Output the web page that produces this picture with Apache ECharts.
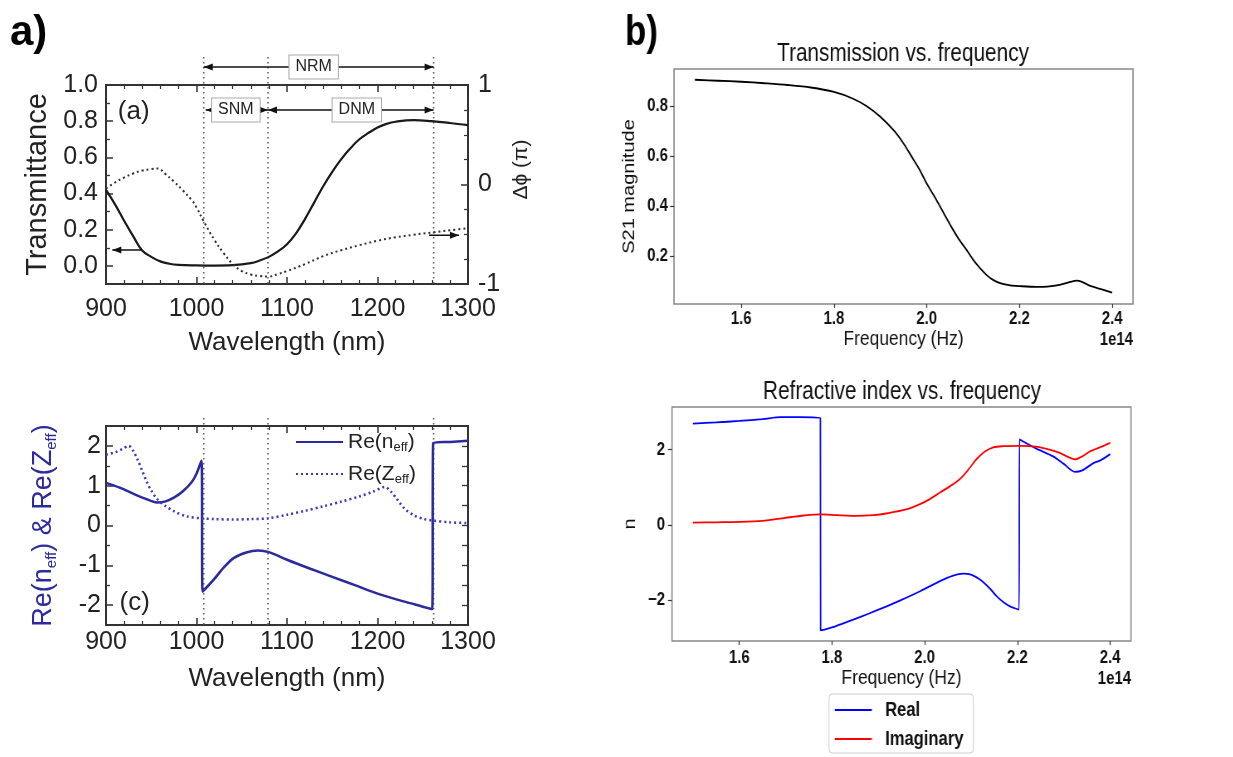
<!DOCTYPE html>
<html><head><meta charset="utf-8">
<script src="https://cdn.jsdelivr.net/npm/echarts@6/dist/echarts.min.js"></script>
<style>
html,body{margin:0;padding:0;background:#fff;overflow:hidden}
#wrap{position:relative;width:1233px;height:757px}
#ca{position:absolute;left:0;top:0;width:620px;height:757px}
#cb{position:absolute;left:620px;top:0;width:739px;height:757px;transform:scaleX(0.83);transform-origin:0 0}
</style>
</head><body><div id="wrap"><div id="ca"></div><div id="cb"></div></div>
<script>
// ---------- DATA ----------
// (a) transmittance vs wavelength (left axis)
const tWl  = [900,910,920,930,940,950,960,970,980,1000,1020,1040,1060,1070,1080,1090,1100,1110,1120,1130,1140,1150,1160,1170,1180,1190,1200,1210,1220,1240,1260,1280,1300];
const tVal = [0.42,0.34,0.25,0.165,0.085,0.05,0.025,0.012,0.006,0.003,0.002,0.004,0.015,0.03,0.05,0.08,0.12,0.18,0.26,0.35,0.44,0.52,0.59,0.65,0.70,0.735,0.765,0.785,0.797,0.806,0.80,0.79,0.778];
// (a) phase difference (right axis, units of pi)
const pWl  = [900,910,920,930,940,950,958,965,975,985,995,1000,1008,1020,1030,1040,1050,1060,1070,1080,1090,1100,1120,1140,1160,1180,1200,1220,1240,1262,1280,1300];
const pVal = [-0.04,0.02,0.07,0.11,0.14,0.155,0.16,0.11,0.03,-0.06,-0.16,-0.23,-0.37,-0.56,-0.69,-0.80,-0.87,-0.905,-0.92,-0.925,-0.90,-0.87,-0.80,-0.72,-0.66,-0.61,-0.565,-0.53,-0.505,-0.48,-0.46,-0.44];
// (c) Re(n_eff)
const nWl  = [900,915,930,945,956,965,975,985,995,1000,1005.5,1006.8,1019,1030,1041,1055,1068,1080,1100,1125,1150,1175,1200,1220,1236,1250,1260.5,1261.5,1280,1300];
const nVal = [1.07,0.95,0.80,0.66,0.58,0.60,0.70,0.86,1.10,1.30,1.63,-1.66,-1.36,-1.06,-0.82,-0.68,-0.63,-0.67,-0.86,-1.08,-1.29,-1.50,-1.71,-1.85,-1.95,-2.04,-2.10,2.07,2.10,2.13];
// (c) Re(Z_eff)
const zWl  = [900,910,918,925,930,935,940,945,950,956,965,975,989,1005,1020,1040,1060,1079,1100,1120,1140,1160,1180,1195,1208,1215,1222,1230,1240,1250,1262,1280,1300];
const zVal = [1.78,1.84,1.92,2.0,1.88,1.65,1.38,1.10,0.88,0.68,0.50,0.36,0.23,0.18,0.16,0.15,0.16,0.18,0.27,0.37,0.48,0.60,0.73,0.85,0.97,0.85,0.65,0.42,0.26,0.17,0.12,0.08,0.06];
// region boundaries (nm) and region names
const regionBounds = [1008, 1079, 1262];
const regionNames = ['NRM', 'SNM', 'DNM'];
// b) S21 magnitude vs frequency (x in units of 1e14 Hz)
const sF = [1.50,1.55,1.60,1.65,1.70,1.75,1.80,1.84,1.87,1.90,1.93,1.95,1.97,1.985,2.00,2.021,2.04,2.057,2.07,2.086,2.10,2.115,2.13,2.143,2.16,2.18,2.20,2.236,2.26,2.287,2.31,2.323,2.335,2.35,2.37,2.40];
const sV = [0.905,0.901,0.897,0.891,0.884,0.874,0.856,0.83,0.80,0.757,0.70,0.65,0.59,0.544,0.49,0.424,0.36,0.304,0.265,0.224,0.185,0.151,0.122,0.104,0.09,0.082,0.079,0.076,0.077,0.084,0.096,0.101,0.096,0.082,0.07,0.053];
// b) refractive index: real part
const rF = [1.50,1.55,1.60,1.65,1.69,1.73,1.775,1.7755,1.80,1.846,1.88,1.918,1.95,1.99,2.033,2.06,2.083,2.10,2.119,2.14,2.155,2.17,2.184,2.2035,2.2045,2.24,2.277,2.30,2.324,2.34,2.364,2.38,2.40];
const rV = [2.69,2.72,2.76,2.81,2.86,2.86,2.84,-2.80,-2.72,-2.51,-2.35,-2.16,-1.99,-1.76,-1.49,-1.35,-1.29,-1.32,-1.45,-1.68,-1.89,-2.05,-2.16,-2.25,2.27,2.03,1.82,1.62,1.41,1.45,1.64,1.72,1.88];
// b) refractive index: imaginary part
const iF = [1.50,1.55,1.60,1.65,1.70,1.74,1.775,1.81,1.85,1.89,1.92,1.96,1.99,2.01,2.033,2.055,2.076,2.095,2.112,2.13,2.148,2.17,2.205,2.24,2.263,2.29,2.31,2.324,2.34,2.356,2.38,2.40];
const iV = [0.06,0.07,0.08,0.11,0.19,0.25,0.28,0.26,0.24,0.26,0.31,0.41,0.55,0.68,0.86,1.03,1.22,1.48,1.75,1.95,2.06,2.09,2.10,2.08,2.02,1.92,1.80,1.74,1.82,1.95,2.07,2.18];
// tick labels
const wlTicks = [900,1000,1100,1200,1300];
const tTicks = [0,0.2,0.4,0.6,0.8,1.0];
const tMinor = [0.1,0.3,0.5,0.7,0.9];
const cTicks = [-2,-1,0,1,2];
const cMinor = [-1.5,-0.5,0.5,1.5];
const cRight = [-2,-1.5,-1,-0.5,0,0.5,1,1.5,2];
const fTicks = [1.6,1.8,2.0,2.2,2.4];
const sTicks = [0.2,0.4,0.6,0.8];
const nTicks = [-2,0,2];
// annotation arrows in data units: [from, tip, level]
const arrowT = [939, 907, 0.088];
const arrowP = [1257, 1290, -0.51];

const zip = (a, b) => a.map((v, i) => [v, b[i]]);
const FA = "'Liberation Sans', Arial, sans-serif";
const INK = '#222';
const BLUE = '#2b2b9e';
const HS = 1 / 0.83;   // horizontal compensation inside the compressed right-hand chart

// ================= LEFT FIGURE (a), (c) =================
const chartA = echarts.init(document.getElementById('ca'), null, {renderer: 'canvas'});
const boxTick = {inside: true, length: 7, lineStyle: {color: '#333', width: 1.5}};
const noLine = {show: false, onZero: false};
const noSplit = {show: false};

function wlAxis(gi, pos, show, gap, margin) {
  return {
    type: 'value', gridIndex: gi, position: pos, min: wlTicks[0], max: wlTicks[wlTicks.length - 1], interval: 100,
    axisLine: noLine, splitLine: noSplit,
    axisTick: boxTick,
    minorTick: {show: true, splitNumber: 5, length: 4, lineStyle: {color: '#333', width: 1.2}},
    axisLabel: {show: show, interval: 0, showMinLabel: true, showMaxLabel: true, margin: margin,
      formatter: v => String(v), fontSize: 25, fontFamily: FA, color: INK},
    name: show ? 'Wavelength (nm)' : '', nameLocation: 'middle', nameGap: gap,
    nameTextStyle: {fontSize: 26, fontFamily: FA, color: INK}
  };
}
function tickOnly(gi, pos, min, max, vals, len) {
  return {
    type: 'value', gridIndex: gi, position: pos, min: min, max: max,
    axisLine: noLine, splitLine: noSplit, axisLabel: {show: false},
    axisTick: {show: true, inside: true, length: len, customValues: vals, lineStyle: {color: '#333', width: 1.3}}
  };
}

chartA.setOption({
  animation: false,
  backgroundColor: '#fff',
  title: [
    {text: 'a)', left: 10, top: 12, padding: 0, textStyle: {fontSize: 42, fontWeight: 'bold', fontFamily: FA, color: '#000'}}
  ],
  grid: [
    {left: 106, top: 85, width: 362, height: 199, show: true, borderColor: '#333', borderWidth: 2, backgroundColor: 'transparent', outerBoundsMode: 'none'},
    {left: 106, top: 426, width: 362, height: 199, show: true, borderColor: '#333', borderWidth: 2, backgroundColor: 'transparent', outerBoundsMode: 'none'}
  ],
  xAxis: [
    wlAxis(0, 'bottom', true, 46, 13),
    wlAxis(0, 'top', false, 0, 8),
    wlAxis(1, 'bottom', true, 41, 5),
    wlAxis(1, 'top', false, 0, 8)
  ],
  yAxis: [
    { // 0: transmittance
      type: 'value', gridIndex: 0, position: 'left', min: -0.1, max: 1.0,
      axisLine: noLine, splitLine: noSplit,
      axisTick: Object.assign({customValues: tTicks}, boxTick),
      axisLabel: {customValues: tTicks, formatter: v => v.toFixed(1), margin: 8, fontSize: 25, fontFamily: FA, color: INK},
      name: 'Transmittance', nameLocation: 'middle', nameGap: 44,
      nameTextStyle: {fontSize: 29, fontFamily: FA, color: INK}
    },
    { // 1: phase
      type: 'value', gridIndex: 0, position: 'right', min: -1, max: 1, interval: 1,
      axisLine: noLine, splitLine: noSplit, axisTick: boxTick,
      minorTick: {show: true, splitNumber: 4, length: 4, lineStyle: {color: '#333', width: 1.2}},
      axisLabel: {showMinLabel: true, showMaxLabel: true, margin: 10, fontSize: 25, fontFamily: FA, color: INK},
      name: 'Δϕ (π)', nameLocation: 'middle', nameGap: 31,
      nameTextStyle: {fontSize: 21, fontFamily: FA, color: INK, padding: [0, 0, 0, 30]}
    },
    tickOnly(0, 'left', -0.1, 1.0, tMinor, 4),
    { // 3: Re(n) & Re(Z)
      type: 'value', gridIndex: 1, position: 'left', min: -2.5, max: 2.5,
      axisLine: noLine, splitLine: noSplit,
      axisTick: Object.assign({customValues: cTicks}, boxTick),
      axisLabel: {customValues: cTicks, margin: 5, fontSize: 25, fontFamily: FA, color: INK},
      name: 'Re(n{s|eff}) & Re(Z{s|eff})', nameLocation: 'middle', nameGap: 47,
      nameTextStyle: {fontSize: 27, fontFamily: FA, color: BLUE, lineHeight: 30,
        rich: {s: {fontSize: 15, fontFamily: FA, color: BLUE, lineHeight: 12, verticalAlign: 'bottom'}}}
    },
    tickOnly(1, 'left', -2.5, 2.5, cMinor, 4),
    tickOnly(1, 'right', -2.5, 2.5, cRight, 6)
  ],
  legend: [
    {
      data: ['Re(n_eff)', 'Re(Z_eff)'], orient: 'vertical', left: 295, top: 430, padding: 0,
      itemWidth: 47, itemHeight: 14, itemGap: 8, selectedMode: false,
      itemStyle: {opacity: 0},
      formatter: name => name.replace('_eff', '{s|eff}'),
      textStyle: {fontSize: 21, fontFamily: FA, color: INK, lineHeight: 24,
        rich: {s: {fontSize: 13, fontFamily: FA, color: INK, lineHeight: 11, verticalAlign: 'bottom'}}}
    }
  ],
  series: [
    {name: 'Transmittance', type: 'line', xAxisIndex: 0, yAxisIndex: 0, data: zip(tWl, tVal),
      smooth: 0.4, symbol: 'none', lineStyle: {color: '#1a1a1a', width: 2.2}, z: 3},
    {name: 'Phase', type: 'line', xAxisIndex: 0, yAxisIndex: 1, data: zip(pWl, pVal),
      smooth: 0.4, symbol: 'none', lineStyle: {color: '#333', width: 2, type: [2, 3]}, z: 3},
    {name: 'Re(n_eff)', type: 'line', xAxisIndex: 2, yAxisIndex: 3, data: zip(nWl, nVal),
      smooth: 0.3, symbol: 'none', lineStyle: {color: BLUE, width: 2.5}, itemStyle: {color: BLUE}, z: 3},
    {name: 'Re(Z_eff)', type: 'line', xAxisIndex: 2, yAxisIndex: 3, data: zip(zWl, zVal),
      smooth: 0.3, symbol: 'none', lineStyle: {color: '#3b3bb5', width: 2.5, type: [2, 3]}, itemStyle: {color: '#3b3bb5'}, z: 3}
  ]
});

// annotations for (a)/(c), placed through the axes' own scales
const PA = (xi, yi, x, y) => chartA.convertToPixel({xAxisIndex: xi, yAxisIndex: yi}, [x, y]);
const gA = [];
const aTop = PA(0, 0, 900, 1.0)[1], aBot = PA(0, 0, 900, -0.1)[1];
const cTop = PA(2, 3, 900, 2.5)[1], cBot = PA(2, 3, 900, -2.5)[1];
const bxA = regionBounds.map(w => PA(0, 0, w, 0)[0]);
const bxC = regionBounds.map(w => PA(2, 3, w, 0)[0]);
function vline(x, y1, y2) {
  return {type: 'line', silent: true, z: 1, shape: {x1: x, y1: y1, x2: x, y2: y2},
    style: {stroke: '#666', lineWidth: 1.6, lineDash: [1.6, 3.4]}};
}
function head(xTip, y, dir) {
  return {type: 'polygon', silent: true, z: 5,
    shape: {points: [[xTip, y], [xTip - dir * 9, y - 3.5], [xTip - dir * 9, y + 3.5]]},
    style: {fill: '#111'}};
}
function seg(x1, x2, y) {
  return {type: 'line', silent: true, z: 5, shape: {x1: x1, y1: y, x2: x2, y2: y}, style: {stroke: '#111', lineWidth: 1.5}};
}
function tag(text, x, y) {
  return {type: 'text', silent: true, z: 10, x: x, y: y,
    style: {text: text, fontSize: 16, fontFamily: FA, fill: '#222', align: 'center', verticalAlign: 'middle',
      backgroundColor: '#fff', borderColor: '#aaa', borderWidth: 1, padding: [4, 6, 3, 6]}};
}
bxA.forEach(x => gA.push(vline(x, aTop - 28, aBot)));
bxC.forEach(x => gA.push(vline(x, cTop - 8, cBot)));
const yN = aTop - 18;
gA.push(seg(bxA[0], bxA[2], yN), head(bxA[0], yN, -1), head(bxA[2], yN, 1), tag(regionNames[0], (bxA[0] + bxA[2]) / 2 - 5, yN));
const yS = aTop + 25;
gA.push(seg(bxA[0] + 2, bxA[1], yS), head(bxA[0] + 2, yS, -1), head(bxA[1], yS, 1), tag(regionNames[1], (bxA[0] + bxA[1]) / 2, yS));
gA.push(seg(bxA[1], bxA[2], yS), head(bxA[1], yS, -1), head(bxA[2], yS, 1), tag(regionNames[2], (bxA[1] + bxA[2]) / 2 + 6, yS));
const la = PA(0, 0, arrowT[0], arrowT[2]), lt = PA(0, 0, arrowT[1], arrowT[2]);
gA.push(seg(la[0], lt[0], la[1]), head(lt[0], la[1], -1));
const ra = PA(0, 1, arrowP[0], arrowP[2]), rt = PA(0, 1, arrowP[1], arrowP[2]);
gA.push(seg(ra[0], rt[0], ra[1]), head(rt[0], ra[1], 1));
const pa = PA(0, 0, 913, 0.85);
gA.push({type: 'text', silent: true, z: 10, x: pa[0], y: pa[1], style: {text: '(a)', fontSize: 26, fontFamily: FA, fill: INK, align: 'left', verticalAlign: 'middle'}});
const pc = PA(2, 3, 915, -1.95);
gA.push({type: 'text', silent: true, z: 10, x: pc[0], y: pc[1], style: {text: '(c)', fontSize: 26, fontFamily: FA, fill: INK, align: 'left', verticalAlign: 'middle'}});
chartA.setOption({graphic: gA});

// ================= RIGHT FIGURE b) (drawn wide, shown horizontally compressed) =================
const chartB = echarts.init(document.getElementById('cb'), null, {renderer: 'canvas'});
const bLabel = {fontSize: 18, fontWeight: 'bold', fontFamily: FA, color: '#111'};
const bName = {fontSize: 21, fontFamily: FA, color: '#111'};
const bYName = {fontSize: 20, fontFamily: FA, color: '#111'};
const bTickX = {show: true, inside: false, length: 4, lineStyle: {color: '#333', width: 1.2}};
const bTickY = {show: true, inside: false, length: 4 * HS, lineStyle: {color: '#333', width: 1.2}};
function freqAxis(gi, margin, gap) {
  return {
    type: 'value', gridIndex: gi, position: 'bottom', min: 1.455, max: 2.445,
    axisLine: noLine, splitLine: noSplit,
    axisTick: Object.assign({customValues: fTicks}, bTickX),
    axisLabel: Object.assign({customValues: fTicks, margin: margin, formatter: v => v.toFixed(1)}, bLabel),
    name: 'Frequency (Hz)', nameLocation: 'middle', nameGap: gap, nameTextStyle: bName
  };
}
chartB.setOption({
  animation: false,
  backgroundColor: '#fff',
  title: [
    {text: 'b)', left: 6, top: 12, padding: 0, textStyle: {fontSize: 42, fontWeight: 'bold', fontFamily: FA, color: '#000'}},
    {text: 'Transmission vs. frequency', left: 283 * HS, top: 42, padding: 0, textAlign: 'center',
      textStyle: {fontSize: 25, fontWeight: 'normal', fontFamily: FA, color: '#111'}},
    {text: 'Refractive index vs. frequency', left: 282 * HS, top: 380, padding: 0, textAlign: 'center',
      textStyle: {fontSize: 25, fontWeight: 'normal', fontFamily: FA, color: '#111'}}
  ],
  grid: [
    {left: 54 * HS, top: 69, width: 459 * HS, height: 235, show: true, borderColor: '#888', borderWidth: 1.6, backgroundColor: 'transparent', outerBoundsMode: 'none'},
    {left: 52 * HS, top: 407, width: 459 * HS, height: 234, show: true, borderColor: '#888', borderWidth: 1.6, backgroundColor: 'transparent', outerBoundsMode: 'none'}
  ],
  xAxis: [freqAxis(0, 6, 25), freqAxis(1, 8, 27)],
  yAxis: [
    {
      type: 'value', gridIndex: 0, position: 'left', min: 0.0073, max: 0.948,
      axisLine: noLine, splitLine: noSplit,
      axisTick: Object.assign({customValues: sTicks}, bTickY),
      axisLabel: Object.assign({customValues: sTicks, margin: 6 * HS, formatter: v => v.toFixed(1)}, bLabel),
      name: 'S21 magnitude', nameLocation: 'middle', nameGap: 34 * HS, nameTextStyle: bYName
    },
    {
      type: 'value', gridIndex: 1, position: 'left', min: -3.08, max: 3.13,
      axisLine: noLine, splitLine: noSplit,
      axisTick: Object.assign({customValues: nTicks}, bTickY),
      axisLabel: Object.assign({customValues: nTicks, margin: 7 * HS, formatter: v => (v < 0 ? '\u2212' + Math.abs(v) : String(v))}, bLabel),
      name: 'n', nameLocation: 'middle', nameGap: 27 * HS, nameTextStyle: bYName
    }
  ],
  legend: [
    {
      data: ['Real', 'Imaginary'], orient: 'vertical', left: 209 * HS, top: 694, height: 120,
      padding: [6, 12, 4, 6], itemWidth: 37 * HS, itemHeight: 14, itemGap: 9, selectedMode: false,
      itemStyle: {opacity: 0},
      borderColor: '#ccc', borderWidth: 1, borderRadius: 4, backgroundColor: '#fff',
      textStyle: {fontSize: 20, fontWeight: 'bold', fontFamily: FA, color: '#111', padding: [0, 0, 0, 11]}
    }
  ],
  series: [
    {name: 'S21', type: 'line', xAxisIndex: 0, yAxisIndex: 0, data: zip(sF, sV),
      smooth: 0.3, symbol: 'none', lineStyle: {color: '#000', width: 1.8}},
    {name: 'Real', type: 'line', xAxisIndex: 1, yAxisIndex: 1, data: zip(rF, rV),
      smooth: 0.3, symbol: 'none', lineStyle: {color: '#0000ff', width: 1.8}, itemStyle: {color: '#0000ff'}},
    {name: 'Imaginary', type: 'line', xAxisIndex: 1, yAxisIndex: 1, data: zip(iF, iV),
      smooth: 0.3, symbol: 'none', lineStyle: {color: '#ff0000', width: 1.8}, itemStyle: {color: '#ff0000'}}
  ]
});
const PB = (xi, yi, x, y) => chartB.convertToPixel({xAxisIndex: xi, yAxisIndex: yi}, [x, y]);
const o1 = PB(0, 0, 2.445, 0.0073), o2 = PB(1, 1, 2.445, -3.08);
chartB.setOption({graphic: [
  {type: 'text', silent: true, x: o1[0], y: o1[1] + 36, style: {text: '1e14', fontSize: 18, fontWeight: 'bold', fontFamily: FA, fill: '#111', align: 'right', verticalAlign: 'middle'}},
  {type: 'text', silent: true, x: o2[0], y: o2[1] + 38, style: {text: '1e14', fontSize: 18, fontWeight: 'bold', fontFamily: FA, fill: '#111', align: 'right', verticalAlign: 'middle'}}
]});
</script>
</body></html>
